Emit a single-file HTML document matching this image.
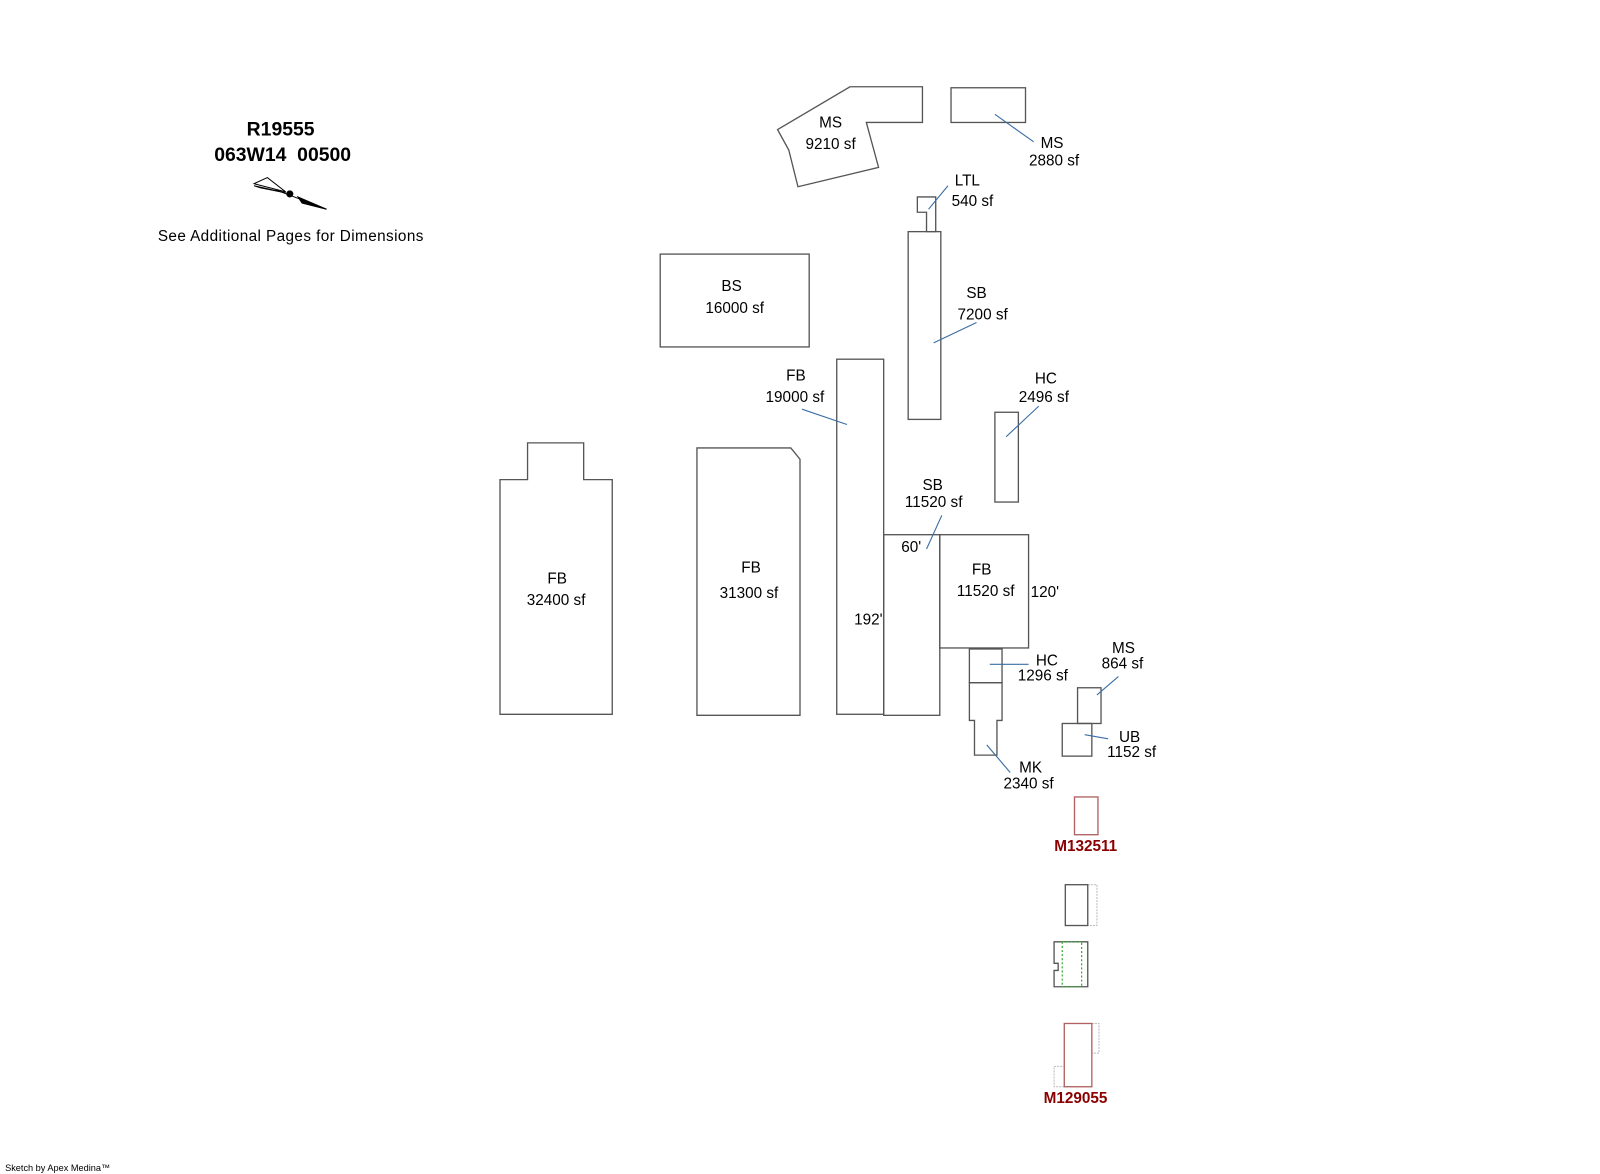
<!DOCTYPE html>
<html><head><meta charset="utf-8"><style>
html,body{margin:0;padding:0;background:#fff;width:1600px;height:1174px;overflow:hidden}
svg{display:block}
text{font-family:"Liberation Sans",Arial,sans-serif;font-size:15px;fill:#000;text-anchor:middle;dominant-baseline:middle}
.s{fill:none;stroke:#555;stroke-width:1.3}
.l{stroke:#3a6ea5;stroke-width:1.1}
.r{fill:none;stroke:#b06060;stroke-width:1.3}
.d{fill:none;stroke:#bbb;stroke-width:1;stroke-dasharray:2 1}
.red{fill:#8b0000;font-weight:bold;font-size:15px}
</style></head><body>
<svg width="1600" height="1174" viewBox="0 0 1568 1150.5" xmlns="http://www.w3.org/2000/svg">
<text x="275" y="128" style="font-weight:bold;font-size:19px">R19555</text>
<text x="277" y="153" style="font-weight:bold;font-size:19px">063W14&#160;&#160;00500</text>
<g stroke="#000" fill="#000">
<path d="M249,180 L280,188 L262,174 Z" fill="none" stroke-width="1"/>
<path d="M249,182 L280,189 L255,184 Z"/>
<line x1="270" y1="186" x2="320" y2="205" stroke-width="1"/>
<circle cx="284" cy="190" r="3"/>
<path d="M292,193 L320,205 L296,199 Z"/>
</g>
<text x="285" y="232" style="letter-spacing:0.4px">See Additional Pages for Dimensions</text>
<text x="5" y="1145" style="font-size:9px;text-anchor:start">Sketch by Apex Medina™</text>

<polygon class="s" points="833,85 904,85 904,120 849,120 861,164 782,183 773,147 762,127"/>
<text x="814" y="121">MS</text><text x="814" y="142">9210 sf</text>

<rect class="s" x="932" y="86" width="73" height="34"/>
<line class="l" x1="975" y1="112" x2="1013" y2="139"/>
<text x="1031" y="141">MS</text><text x="1033" y="158">2880 sf</text>

<polygon class="s" points="899,193 917,193 917,227 908,227 908,208 899,208"/>
<line class="l" x1="910" y1="205" x2="929" y2="182"/>
<text x="948" y="178">LTL</text><text x="953" y="198">540 sf</text>

<rect class="s" x="890" y="227" width="32" height="184"/>
<line class="l" x1="915" y1="336" x2="957" y2="316"/>
<text x="957" y="288">SB</text><text x="963" y="309">7200 sf</text>

<rect class="s" x="647" y="249" width="146" height="91"/>
<text x="717" y="281">BS</text><text x="720" y="303">16000 sf</text>

<rect class="s" x="820" y="352" width="46" height="348"/>
<line class="l" x1="786" y1="401" x2="830" y2="416"/>
<text x="780" y="369">FB</text><text x="779" y="390">19000 sf</text>

<rect class="s" x="975" y="404" width="23" height="88"/>
<line class="l" x1="986" y1="428" x2="1018" y2="398"/>
<text x="1025" y="372">HC</text><text x="1023" y="390">2496 sf</text>

<polygon class="s" points="490,470 517,470 517,434 572,434 572,470 600,470 600,700 490,700"/>
<text x="546" y="568">FB</text><text x="545" y="589">32400 sf</text>

<polygon class="s" points="683,439 775,439 784,450 784,701 683,701"/>
<text x="736" y="557">FB</text><text x="734" y="582">31300 sf</text>

<rect class="s" x="866" y="524" width="55" height="177"/>
<line class="l" x1="908" y1="538" x2="923" y2="505"/>
<text x="914" y="476">SB</text><text x="915" y="493">11520 sf</text>
<text x="893" y="537">60'</text>
<text x="851" y="608">192'</text>

<rect class="s" x="921" y="524" width="87" height="111"/>
<text x="962" y="559">FB</text><text x="966" y="580">11520 sf</text>
<text x="1024" y="581">120'</text>

<rect class="s" x="950" y="636" width="32" height="33"/>
<line class="l" x1="970" y1="651" x2="1008" y2="651"/>
<text x="1026" y="648">HC</text><text x="1022" y="663">1296 sf</text>

<polygon class="s" points="950,669 982,669 982,706 977,706 977,740 955,740 955,706 950,706"/>
<line class="l" x1="967" y1="730" x2="990" y2="757"/>
<text x="1010" y="753">MK</text><text x="1008" y="769">2340 sf</text>

<rect class="s" x="1056" y="674" width="23" height="35"/>
<line class="l" x1="1075" y1="681" x2="1096" y2="663"/>
<text x="1101" y="636">MS</text><text x="1100" y="651">864 sf</text>

<rect class="s" x="1041" y="709" width="29" height="32"/>
<line class="l" x1="1063" y1="720" x2="1086" y2="724"/>
<text x="1107" y="723">UB</text><text x="1109" y="738">1152 sf</text>

<rect class="r" x="1053" y="781" width="23" height="37"/>
<text class="red" x="1064" y="830">M132511</text>

<rect class="d" x="1066" y="867" width="9" height="40"/>
<rect class="s" x="1044" y="867" width="22" height="40"/>

<polygon class="s" points="1033,923 1066,923 1066,967 1033,967 1033,951 1037,951 1037,944 1033,944"/>
<rect x="1041" y="923" width="19" height="44" fill="none" stroke="#3a3" stroke-width="1.2" stroke-dasharray="2 2"/>

<rect class="d" x="1070" y="1003" width="7" height="29"/>
<rect class="d" x="1033" y="1045" width="10" height="20"/>
<rect class="r" x="1043" y="1003" width="27" height="62"/>
<text class="red" x="1054" y="1077">M129055</text>
</svg>
</body></html>
